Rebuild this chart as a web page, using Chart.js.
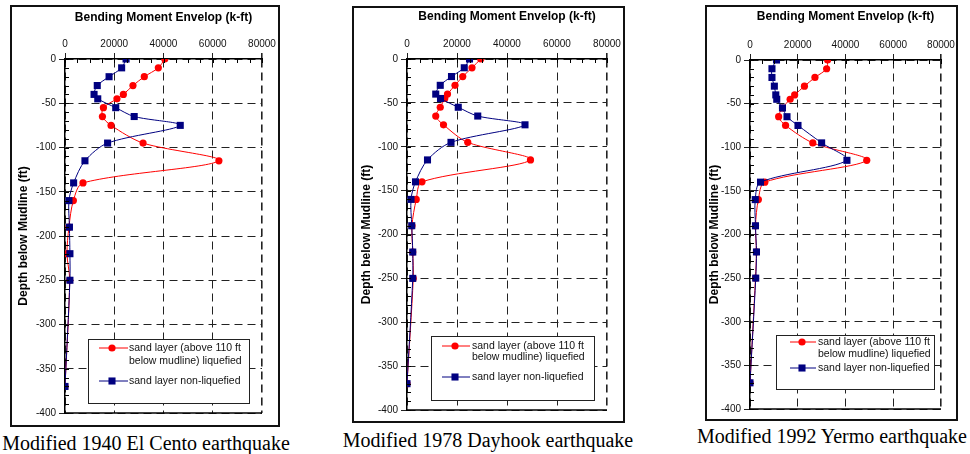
<!DOCTYPE html>
<html>
<head>
<meta charset="utf-8">
<script src="https://cdn.jsdelivr.net/npm/chart.js@4.4.1/dist/chart.umd.min.js"></script>
<style>
  body { margin: 0; background: #fff; width: 970px; height: 454px; position: relative; overflow: hidden; }
  .panel { position: absolute; border: 2px solid #111; box-sizing: border-box; background: #fff; }
  .panel canvas { display: block; }
  .cap { position: absolute; width: 400px; text-align: center; font-family: "Liberation Serif", "Times New Roman", serif;
         font-size: 20px; line-height: 20px; color: #000; white-space: nowrap; }
</style>
</head>
<body>

<div class="panel" style="left:10px;top:5px;width:270px;height:422px"><canvas id="c1" width="266" height="418"></canvas></div>
<div class="panel" style="left:352px;top:6px;width:273px;height:417px"><canvas id="c2" width="269" height="413"></canvas></div>
<div class="panel" style="left:705px;top:5px;width:253px;height:416px"><canvas id="c3" width="249" height="412"></canvas></div>

<div class="cap" id="cap1" style="left:-54px;top:433px"></div>
<div class="cap" id="cap2" style="left:288px;top:430px"></div>
<div class="cap" id="cap3" style="left:632px;top:426px"></div>

<script>
// depth of each output station below mudline (ft)
var depths = [0, -10, -20, -30, -40, -45, -55, -65, -75, -95, -115, -140, -160, -190, -220, -250, -370];

// bending moment envelope (k-ft)
var elCentroLiq = [40500, 37900, 32200, 27600, 23700, 21100, 15600, 15200, 18700, 31700, 62500, 7300, 3400, 1600, 800, 1900, 0];
var elCentroNon = [24800, 23000, 17900, 13100, 11800, 13300, 20600, 28100, 46800, 17300, 8100, 3500, 1600, 1800, 2000, 2000, 0];
var dayhookLiq = [29500, 26000, 22300, 19200, 16200, 15100, 13300, 11500, 14600, 24300, 49400, 6000, 3700, 2000, 2300, 2500, 0];
var dayhookNon = [25000, 22900, 17800, 13300, 11500, 13400, 20500, 28300, 47200, 17600, 8200, 3400, 1600, 1900, 2300, 2300, 0];
var yermoLiq = [32500, 32100, 27200, 22800, 18700, 16800, 13600, 12000, 14900, 26300, 48900, 6200, 3500, 2300, 2700, 2300, 0];
var yermoNon = [11100, 9200, 9200, 10200, 10800, 11200, 13600, 15500, 20100, 30000, 40600, 4400, 2200, 2300, 2700, 2400, 0];

var momentTicks = [0, 20000, 40000, 60000, 80000];
var depthTicks = [-400, -350, -300, -250, -200, -150, -100, -50, 0];

var xTitle = 'Bending Moment Envelop (k-ft)';
var yTitle = 'Depth below Mudline (ft)';
var legendLiq = ['sand layer (above 110 ft', 'below mudline) liquefied'];
var legendNon = ['sand layer non-liquefied'];
var captions = ['Modified 1940 El Cento earthquake', 'Modified 1978 Dayhook earthquake', 'Modified 1992 Yermo earthquake'];

var SANS = '"Liberation Sans", Arial, sans-serif';

// small inward ticks on both axes + solid bottom edge of the plot frame
var frameTicks = {
  id: 'frameTicks',
  afterDraw: function (chart) {
    var ctx = chart.ctx, a = chart.chartArea, x = chart.scales.x, y = chart.scales.y;
    ctx.save();
    ctx.strokeStyle = '#000';
    ctx.lineWidth = 1;
    ctx.beginPath();
    for (var v = -400; v <= 0; v += 10) {
      var py = Math.round(y.getPixelForValue(v)) + 0.5;
      ctx.moveTo(a.left, py);
      ctx.lineTo(a.left + 4, py);
    }
    for (var m = 0; m <= 80000; m += 5000) {
      var px = Math.round(x.getPixelForValue(m)) + 0.5;
      ctx.moveTo(px, a.top);
      ctx.lineTo(px, a.top + 4);
    }
    ctx.stroke();
    ctx.lineWidth = 1.5;
    ctx.beginPath();
    ctx.moveTo(a.left, a.bottom);
    ctx.lineTo(a.right, a.bottom);
    ctx.stroke();
    ctx.restore();
  }
};

// boxed legend sitting inside the plot, bottom right
var boxLegend = {
  id: 'boxLegend',
  afterDraw: function (chart, args, o) {
    var ctx = chart.ctx, a = chart.chartArea;
    var bx = Math.round(a.right - o.right - o.width), by = Math.round(a.bottom - o.bottom - o.height);
    ctx.save();
    ctx.fillStyle = '#fff';
    ctx.fillRect(bx, by, o.width, o.height);
    ctx.strokeStyle = '#222';
    ctx.lineWidth = 1;
    ctx.strokeRect(bx + 0.5, by + 0.5, o.width, o.height);
    ctx.font = '10.5px ' + SANS;
    ctx.textBaseline = 'middle';
    var texts = [legendLiq, legendNon];
    chart.data.datasets.forEach(function (ds, i) {
      var yy = by + o.rows[i];
      ctx.strokeStyle = ds.borderColor;
      ctx.fillStyle = ds.backgroundColor;
      ctx.beginPath();
      ctx.moveTo(bx + o.lineX0, yy);
      ctx.lineTo(bx + o.lineX1, yy);
      ctx.stroke();
      var mx = bx + o.markX;
      if (ds.pointStyle === 'rect') {
        var s = ds.pointRadius * Math.SQRT1_2;
        ctx.fillRect(mx - s, yy - s, 2 * s, 2 * s);
      } else {
        ctx.beginPath();
        ctx.arc(mx, yy, ds.pointRadius, 0, Math.PI * 2);
        ctx.fill();
      }
      ctx.fillStyle = '#111';
      texts[i].forEach(function (t, k) {
        ctx.fillText(t, bx + o.textX, yy + k * o.lineGap);
      });
    });
    ctx.restore();
  }
};

function toPoints(vals) {
  return vals.map(function (v, i) { return { x: v, y: depths[i] }; });
}

function drawPanel(id, liq, non, p) {
  new Chart(document.getElementById(id), {
    type: 'scatter',
    data: {
      datasets: [{
        label: legendLiq.join(' '),
        data: toPoints(liq),
        showLine: true,
        borderColor: '#ff0000',
        backgroundColor: '#ff0000',
        borderWidth: 1,
        pointStyle: 'circle',
        pointRadius: 3.6,
        pointBorderWidth: 0,
        tension: 0.3,
        order: 2
      }, {
        label: legendNon.join(' '),
        data: toPoints(non),
        showLine: true,
        borderColor: '#000080',
        backgroundColor: '#000080',
        borderWidth: 1,
        pointStyle: 'rect',
        pointRadius: 5,
        pointBorderWidth: 0,
        tension: 0.3,
        order: 1
      }]
    },
    options: {
      responsive: false,
      animation: false,
      events: [],
      layout: { padding: { left: 0, top: 0, right: p.padR, bottom: p.padB } },
      plugins: {
        legend: { display: false },
        tooltip: { enabled: false },
        boxLegend: p.legend
      },
      scales: {
        x: {
          type: 'linear',
          position: 'top',
          min: 0,
          max: 80000,
          afterBuildTicks: function (s) { s.ticks = momentTicks.map(function (v) { return { value: v }; }); },
          afterFit: function (s) { s.height = p.plotTop; s.paddingLeft = 0; s.paddingRight = 0; },
          ticks: { color: '#111', font: { family: SANS, size: 10 }, padding: 3, maxRotation: 0,
                   callback: function (v) { return String(v); } },
          grid: { color: '#222', tickLength: 6,
                  lineWidth: function (c) { return c.tick && c.tick.value === 80000 ? 1.6 : 1; } },
          border: { display: true, color: '#000', width: 1.5, dash: [8, 5] },
          title: { display: true, text: xTitle, color: '#000', font: { family: SANS, size: 12, weight: 'bold' },
                   padding: { top: p.xTitlePad, bottom: 0 } }
        },
        y: {
          type: 'linear',
          position: 'left',
          min: -400,
          max: 0,
          afterBuildTicks: function (s) { s.ticks = depthTicks.map(function (v) { return { value: v }; }); },
          afterFit: function (s) { s.width = p.plotLeft; s.paddingTop = 0; s.paddingBottom = 0; },
          ticks: { color: '#111', font: { family: SANS, size: 10 }, padding: 3,
                   callback: function (v) { return String(v); } },
          grid: { color: '#222', tickLength: 6 },
          border: { display: true, color: '#000', width: 1.5, dash: [8, 5] },
          title: { display: true, text: yTitle, color: '#000', font: { family: SANS, size: 12, weight: 'bold' },
                   padding: { top: p.yTitlePad, bottom: 0 } }
        }
      }
    },
    plugins: [frameTicks, boxLegend]
  });
}

drawPanel('c1', elCentroLiq, elCentroNon, {
  plotLeft: 53, plotTop: 52, padR: 16, padB: 12, xTitlePad: 3, yTitlePad: 4,
  legend: { right: 13, bottom: 10, width: 161, height: 64, rows: [9, 42], lineGap: 13,
            lineX0: 11, lineX1: 40, markX: 24, textX: 41 }
});
drawPanel('c2', dayhookLiq, dayhookNon, {
  plotLeft: 53, plotTop: 51, padR: 16, padB: 11, xTitlePad: 1.5, yTitlePad: 5,
  legend: { right: 13, bottom: 10, width: 163, height: 64, rows: [10, 41], lineGap: 11,
            lineX0: 11, lineX1: 39, markX: 24, textX: 41 }
});
drawPanel('c3', yermoLiq, yermoNon, {
  plotLeft: 43, plotTop: 53, padR: 15, padB: 10, xTitlePad: 2.5, yTitlePad: 0,
  legend: { right: 7, bottom: 20, width: 158, height: 54, rows: [7, 33], lineGap: 12,
            lineX0: 14, lineX1: 40, markX: 26, textX: 42 }
});

document.getElementById('cap1').textContent = captions[0];
document.getElementById('cap2').textContent = captions[1];
document.getElementById('cap3').textContent = captions[2];
</script>
</body>
</html>
